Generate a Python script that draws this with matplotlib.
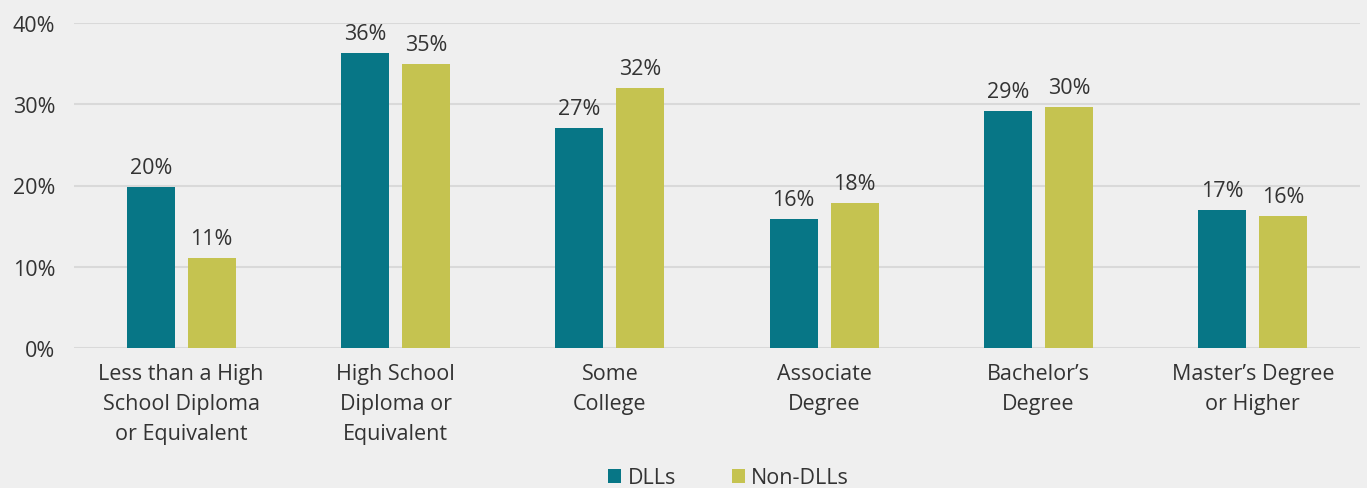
import matplotlib.pyplot as plt
import numpy as np

plt.rcParams['font.family'] = ['Open Sans', 'DejaVu Sans']

categories = ["Less than a High\nSchool Diploma\nor Equivalent",
              "High School\nDiploma or\nEquivalent",
              "Some\nCollege",
              "Associate\nDegree",
              "Bachelor\u2019s\nDegree",
              "Master\u2019s Degree\nor Higher"]
dlls = [19.8, 36.3, 27.1, 15.9, 29.2, 17.0]
non_dlls = [11.1, 35.0, 32.0, 17.8, 29.7, 16.2]
dll_labels = ["20%", "36%", "27%", "16%", "29%", "17%"]
non_labels = ["11%", "35%", "32%", "18%", "30%", "16%"]

teal = "#077686"
olive = "#C5C350"
bg = "#EFEFEF"
txt = "#333333"
fs = 15.5

fig = plt.figure(figsize=(13.67, 4.89), dpi=100, facecolor=bg)
ax = fig.add_axes([74/1367, 1-349/489, (1360-74)/1367, (349-24)/489])
ax.set_facecolor(bg)

x = np.arange(len(categories))
w = 0.224
off = 0.142
b1 = ax.bar(x - off, dlls, w, color=teal, label="DLLs", zorder=3)
b2 = ax.bar(x + off, non_dlls, w, color=olive, label="Non-DLLs", zorder=3)

for xi, v, s in zip(x, dlls, dll_labels):
    ax.text(xi - off, v + 1.1, s, ha='center', va='bottom', fontsize=fs, color=txt)
for xi, v, s in zip(x, non_dlls, non_labels):
    ax.text(xi + off, v + 1.1, s, ha='center', va='bottom', fontsize=fs, color=txt)

ax.set_xlim(-0.5, len(categories) - 0.5)
ax.set_ylim(0, 40)
ax.set_yticks([0, 10, 20, 30, 40])
ax.set_yticklabels(["0%", "10%", "20%", "30%", "40%"])
ax.yaxis.grid(True, color="#D9D9D9", linewidth=1.5, zorder=0)
ax.set_axisbelow(True)
ax.set_xticks(x)
ax.set_xticklabels(categories, linespacing=1.55)
ax.tick_params(axis='both', length=0, labelsize=fs, colors=txt)
ax.tick_params(axis='y', pad=13.5)
ax.tick_params(axis='x', pad=11)
for sp in ax.spines.values():
    sp.set_visible(False)

leg = fig.legend(handles=[b1, b2], loc='center', bbox_to_anchor=(0.533, 1-479/489),
                 ncol=2, frameon=False, fontsize=fs, handlelength=0.6, handleheight=0.6,
                 handletextpad=0.3, columnspacing=2.6)
for t in leg.get_texts():
    t.set_color(txt)

fig.savefig("out.png", dpi=100, facecolor=bg)
